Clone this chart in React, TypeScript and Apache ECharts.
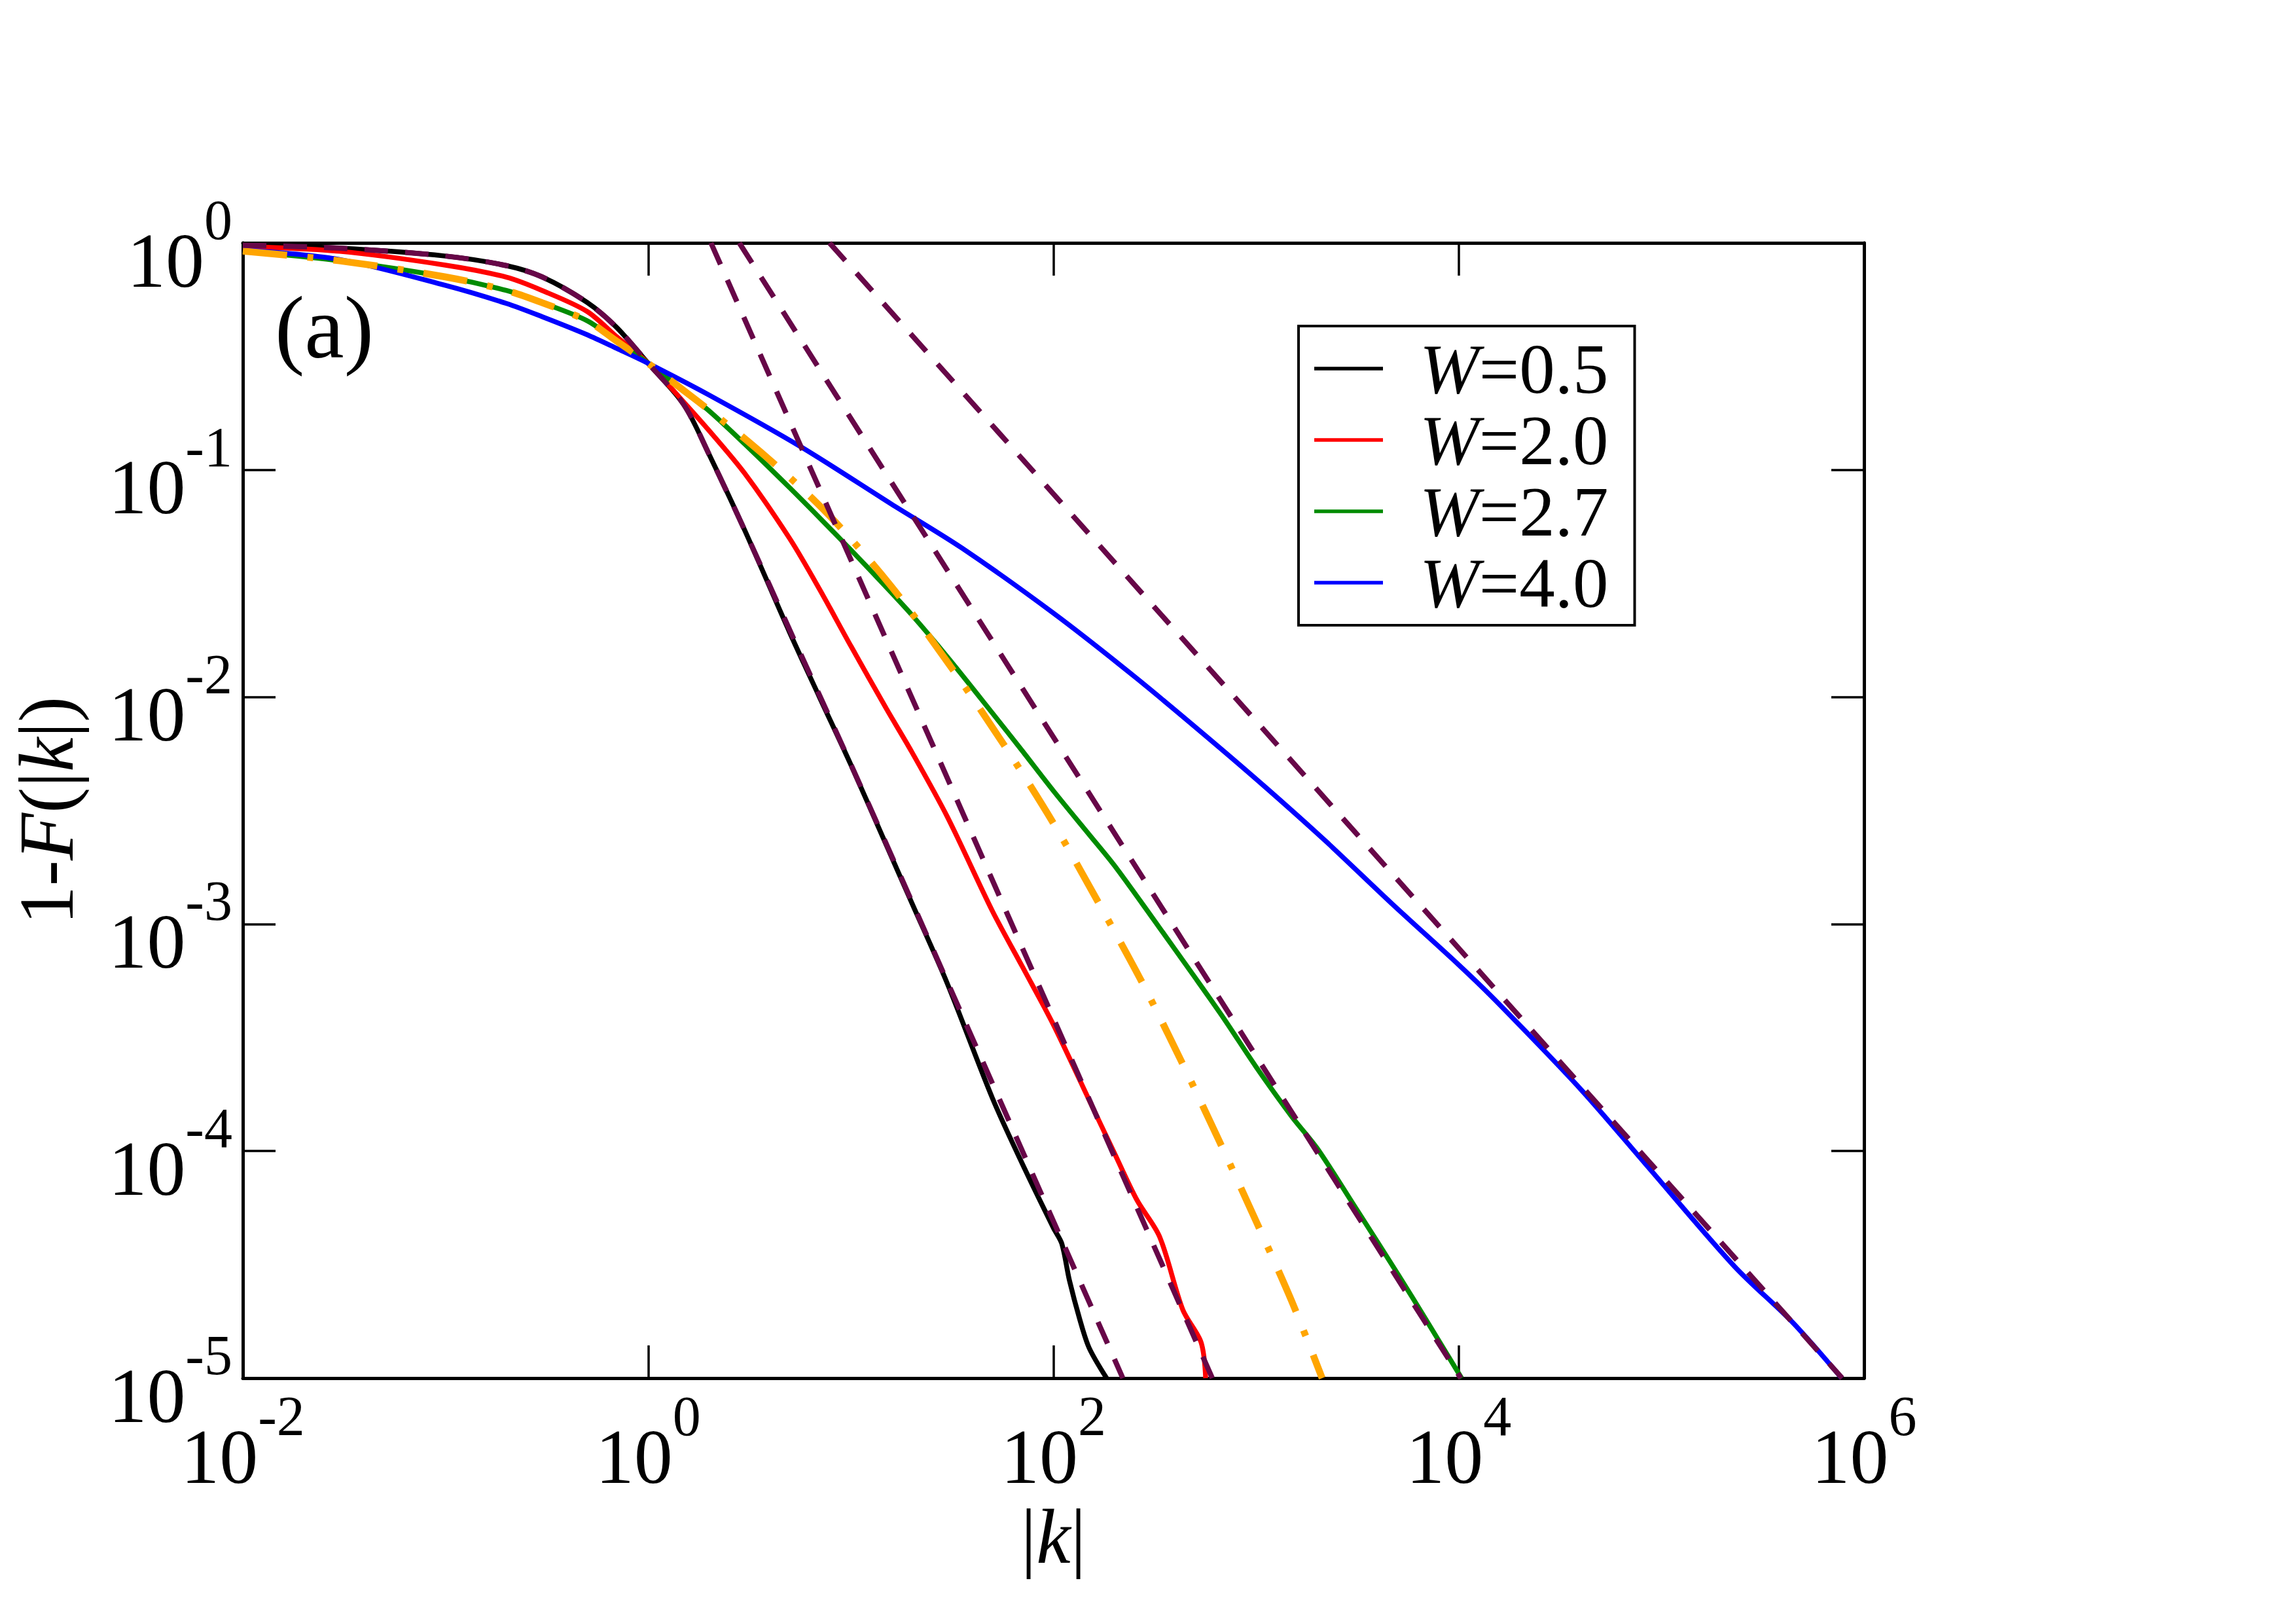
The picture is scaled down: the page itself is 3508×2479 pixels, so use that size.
import React, { useEffect, useRef } from 'react';
import * as echarts from 'echarts';

const FONT = "'Liberation Serif', 'Times New Roman', Times, serif";

// ---- data (|k| and 1-F(|k|)) ----
const kBlack = [0.01, 0.03, 0.1, 0.2, 0.3, 0.5, 0.7, 1, 1.5, 2, 3, 5, 7, 10, 15, 20, 30, 50, 70, 100, 110, 120, 135, 150, 183];
const pBlack = [0.977, 0.948, 0.875, 0.794, 0.708, 0.547, 0.424, 0.295, 0.194, 0.117, 0.0541, 0.0192, 0.0100, 0.00504, 0.00222, 0.00124, 0.000545, 0.000171, 0.0000885, 0.0000459, 0.0000391, 0.0000269, 0.0000181, 0.0000136, 0.00001];

const kRed = [0.01, 0.03, 0.1, 0.2, 0.3, 0.5, 0.7, 1, 1.5, 2, 3, 5, 7, 10, 15, 20, 30, 50, 70, 100, 150, 200, 258, 334, 435, 535, 564];
const pRed = [0.964, 0.918, 0.798, 0.706, 0.617, 0.499, 0.386, 0.295, 0.199, 0.149, 0.0964, 0.0498, 0.0299, 0.0168, 0.00887, 0.00573, 0.00296, 0.00114, 0.000653, 0.000360, 0.000168, 0.0000979, 0.0000610, 0.0000420, 0.0000200, 0.0000144, 0.00001];

const kGreen = [0.01, 0.03, 0.1, 0.2, 0.3, 0.5, 0.7, 1, 1.5, 2, 3, 5, 7, 10, 15, 20, 30, 50, 70, 100, 150, 200, 300, 500, 700, 1000, 1500, 2000, 3000, 5000, 7000, 10330];
const pGreen = [0.920, 0.834, 0.708, 0.617, 0.545, 0.454, 0.369, 0.295, 0.222, 0.182, 0.130, 0.0834, 0.0617, 0.0445, 0.0304, 0.0230, 0.0150, 0.00849, 0.00581, 0.00386, 0.00248, 0.00181, 0.00110, 0.000581, 0.000379, 0.000235, 0.000142, 0.000103, 0.0000589, 0.0000288, 0.0000177, 0.00001];

const kBlue = [0.01, 0.03, 0.1, 0.2, 0.3, 0.5, 0.7, 1, 1.995, 5.623, 15.85, 35.48, 100, 251.2, 562.3, 1122, 2239, 4677, 10000, 15140, 39810, 83180, 229100, 446700, 776200];
const pBlue = [0.933, 0.845, 0.650, 0.541, 0.473, 0.394, 0.343, 0.295, 0.214, 0.127, 0.0708, 0.0452, 0.0234, 0.0123, 0.00676, 0.00398, 0.00229, 0.00123, 0.000661, 0.000462, 0.000188, 0.0000881, 0.0000311, 0.0000175, 0.00001];

const kOrange = [0.01, 0.03, 0.1, 0.2, 0.3, 0.5, 0.7, 1, 3.069, 7.228, 15.67, 30.83, 57.28, 100, 167.1, 272.9, 429.5, 663.7, 1009, 1503, 2118];
const pOrange = [0.920, 0.834, 0.708, 0.617, 0.545, 0.454, 0.369, 0.295, 0.135, 0.0678, 0.0311, 0.01377, 0.00612, 0.00278, 0.00124, 0.000557, 0.000247, 0.000109, 0.0000483, 0.0000217, 0.00001];

const kFit05 = [0.01, 0.03, 0.1, 0.2, 0.3, 0.5, 0.7, 1, 1.5, 2, 3, 5, 10, 30, 100, 220];
const pFit05 = [0.977, 0.948, 0.875, 0.794, 0.708, 0.547, 0.424, 0.295, 0.194, 0.117, 0.0541, 0.0197, 0.00506, 0.000555, 0.0000491, 0.00001];

const kFit20 = [2.042, 608.1];
const pFit20 = [1, 0.00001];
const kFit27 = [2.818, 10233];
const pFit27 = [1, 0.00001];
const kFit40 = [7.852, 779800];
const pFit40 = [1, 0.00001];

const legendNames = ['W=0.5', 'W=2.0', 'W=2.7', 'W=4.0'];
const lineColors = ['#000000', '#ff0000', '#008b00', '#0000ff'];
const xTickExponents = [-2, 0, 2, 4, 6];
const yTickExponents = [0, -1, -2, -3, -4, -5];

const pairs = (k: number[], p: number[]) => k.map((x, i) => [x, p[i]]);

const tickRich = {
  b: { fontFamily: FONT, fontSize: 118, color: '#000', height: 102, lineHeight: 156, verticalAlign: 'bottom' },
  s: { fontFamily: FONT, fontSize: 86, color: '#000', height: 86, lineHeight: 156, verticalAlign: 'top' },
};

const makeFormatter = (allowed: number[]) => (v: number) => {
  const e = Math.round(Math.log10(v));
  return allowed.includes(e) ? `{b|10}{s|${e}}` : '';
};

const frameLine = { show: true, onZero: false, lineStyle: { color: '#000', width: 5 } };
const frameTick = { show: true, inside: true, length: 50, lineStyle: { color: '#000', width: 3.5 } };

const LEG_FS = 109;

export default function App() {
  const ref = useRef<HTMLDivElement>(null);
  useEffect(() => {
    const chart = echarts.init(ref.current as HTMLDivElement, null, { renderer: 'svg' });
    const nameStyle = {
      fontFamily: FONT,
      fontSize: 118,
      color: '#000',
      verticalAlign: 'middle',
      rich: { i: { fontFamily: FONT, fontSize: 118, fontStyle: 'italic', color: '#000' } },
    };
    const solid = (idx: number, k: number[], p: number[]) => ({
      type: 'line',
      name: legendNames[idx],
      data: pairs(k, p),
      symbol: 'none',
      showSymbol: false,
      smooth: 0.3,
      lineStyle: { color: lineColors[idx], width: 7.5 },
      itemStyle: { color: lineColors[idx] },
      z: 2,
    });
    const dashed = (name: string, k: number[], p: number[], smooth: number) => ({
      type: 'line',
      name,
      data: pairs(k, p),
      symbol: 'none',
      showSymbol: false,
      smooth,
      lineStyle: { color: '#670748', width: 8, type: [36, 26] },
      itemStyle: { color: '#670748' },
      z: 4,
    });
    const option: any = {
      animation: false,
      backgroundColor: '#ffffff',
      textStyle: { fontFamily: FONT, color: '#000' },
      grid: { left: 371, right: 660, top: 371, bottom: 374, containLabel: false },
      xAxis: [
        {
          type: 'log',
          logBase: 100,
          min: 0.01,
          max: 1e6,
          position: 'bottom',
          axisLine: frameLine,
          axisTick: frameTick,
          minorTick: { show: false },
          splitLine: { show: false },
          axisLabel: {
            margin: 15,
            showMinLabel: true,
            showMaxLabel: true,
            formatter: makeFormatter(xTickExponents),
            rich: tickRich,
          },
          name: '|{i|k}|',
          nameLocation: 'middle',
          nameGap: 231,
          nameTextStyle: nameStyle,
        },
        {
          type: 'log',
          logBase: 100,
          min: 0.01,
          max: 1e6,
          position: 'top',
          axisLine: frameLine,
          axisTick: frameTick,
          minorTick: { show: false },
          splitLine: { show: false },
          axisLabel: { show: false },
        },
      ],
      yAxis: [
        {
          type: 'log',
          logBase: 10,
          min: 0.00001,
          max: 1,
          position: 'left',
          axisLine: frameLine,
          axisTick: frameTick,
          minorTick: { show: false },
          splitLine: { show: false },
          axisLabel: {
            margin: 16,
            showMinLabel: true,
            showMaxLabel: true,
            formatter: makeFormatter(yTickExponents),
            rich: tickRich,
          },
          name: '1-{i|F}(|{i|k}|)',
          nameLocation: 'middle',
          nameGap: 300,
          nameTextStyle: nameStyle,
        },
        {
          type: 'log',
          logBase: 10,
          min: 0.00001,
          max: 1,
          position: 'right',
          axisLine: frameLine,
          axisTick: frameTick,
          minorTick: { show: false },
          splitLine: { show: false },
          axisLabel: { show: false },
        },
      ],
      legend: {
        data: legendNames,
        orient: 'vertical',
        left: 1984,
        top: 498,
        padding: [10.5, 40, 10.5, 24],
        itemWidth: 105,
        itemHeight: 5.5,
        itemGap: 0,
        icon: 'rect',
        selectedMode: false,
        borderColor: '#000',
        borderWidth: 4,
        borderRadius: 0,
        backgroundColor: '#ffffff',
        formatter: (name: string) => `{w|W}{n|${name.slice(1)}}`,
        textStyle: {
          fontFamily: FONT,
          fontSize: LEG_FS,
          color: '#000',
          lineHeight: 109,
          rich: {
            w: { fontFamily: FONT, fontSize: LEG_FS, fontStyle: 'italic', color: '#000', lineHeight: 109, padding: [0, 0, 0, 51] },
            n: { fontFamily: FONT, fontSize: LEG_FS, fontStyle: 'normal', color: '#000', lineHeight: 109 },
          },
        },
        z: 10,
      },
      graphic: [
        {
          type: 'text',
          x: 420,
          y: 500,
          z: 100,
          style: { text: '(a)', font: "136px 'Liberation Serif', serif", fill: '#000', align: 'left', verticalAlign: 'middle' },
        },
      ],
      series: [
        solid(0, kBlack, pBlack),
        solid(1, kRed, pRed),
        solid(2, kGreen, pGreen),
        solid(3, kBlue, pBlue),
        {
          type: 'line',
          name: 'fit-orange',
          data: pairs(kOrange, pOrange),
          symbol: 'none',
          showSymbol: false,
          smooth: 0.3,
          lineStyle: { color: '#ffa500', width: 10.5, type: [68, 31, 9, 31] },
          itemStyle: { color: '#ffa500' },
          z: 3,
        },
        dashed('fit-0.5', kFit05, pFit05, 0.3),
        dashed('fit-2.0', kFit20, pFit20, 0),
        dashed('fit-2.7', kFit27, pFit27, 0),
        dashed('fit-4.0', kFit40, pFit40, 0),
      ],
    };
    chart.setOption(option);
    return () => chart.dispose();
  }, []);
  return (
    <div
      ref={ref}
      style={{ position: 'absolute', left: 0, top: 0, width: 3508, height: 2479, background: '#fff' }}
    />
  );
}
